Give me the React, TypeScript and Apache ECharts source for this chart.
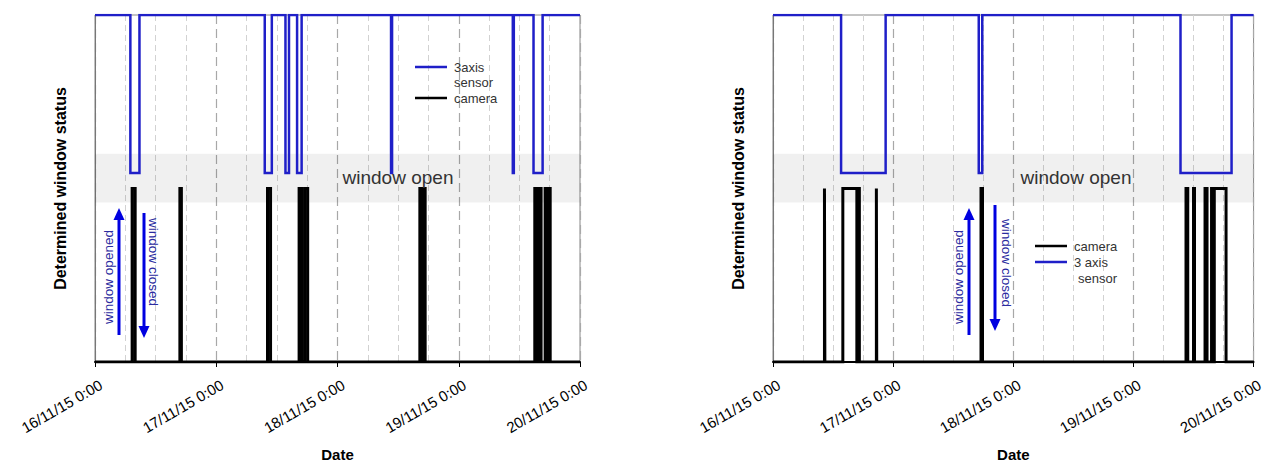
import React, { useEffect, useRef } from "react";
import * as echarts from "echarts";

// ---- data (hours since 16/11/15 0:00) ----
const dayLabels = ["16/11/15 0:00", "17/11/15 0:00", "18/11/15 0:00", "19/11/15 0:00", "20/11/15 0:00"];
const HOURS = 96;

// status encodings on the (hidden) y scale 0..100
const CAMERA_CLOSED = 0;
const CAMERA_OPEN = 50;
const SENSOR_CLOSED = 100;
const SENSOR_OPEN = 54.5;
const bandLow = 46;
const bandHigh = 60;

// left panel: periods where the window was detected open
const leftSensorOpen: [number, number][] = [
  [7.0, 8.8], [33.6, 35.0], [37.7, 38.4], [40.0, 40.9], [58.6, 58.8], [82.7, 82.9], [86.8, 88.6],
];
const leftCameraOpen: [number, number][] = [
  [7.35, 7.95], [16.8, 17.1], [34.15, 34.75], [40.4, 40.9], [41.5, 42.1], [64.3, 64.75], [64.95, 65.35],
  [87.05, 87.55], [87.75, 88.3], [89.1, 89.3], [89.8, 90.1],
];

// right panel
const rightSensorOpen: [number, number][] = [
  [13.6, 22.5], [41.1, 41.8], [81.4, 91.6],
];
const rightCameraOpen: [number, number][] = [
  [10.28, 10.36], [13.95, 16.75], [16.95, 17.25], [20.65, 20.72], [41.55, 41.85],
  [82.5, 82.85], [84.0, 84.2], [86.3, 86.7], [87.6, 88.0], [88.15, 90.5],
];

const FONT = "'Liberation Sans', Arial, Helvetica, sans-serif";
const BLUE = "#1f1fc8";
const TEXT_BLUE = "#2b2ba0";

function stepData(intervals: [number, number][], closed: number, open: number) {
  const pts: number[][] = [[0, closed]];
  for (const [s, e] of intervals) {
    pts.push([s, closed], [s, open], [e, open], [e, closed]);
  }
  pts.push([HOURS, closed]);
  return pts;
}

function xAxis(gridIndex: number) {
  return {
    type: "value",
    gridIndex,
    min: 0,
    max: HOURS,
    interval: 24,
    name: "Date",
    nameLocation: "middle",
    nameGap: 85,
    nameTextStyle: { fontWeight: "bold", fontSize: 15, color: "#000", fontFamily: FONT },
    axisLine: { show: true, onZero: false, lineStyle: { color: "#000", width: 2 } },
    axisTick: { show: true, length: 5, lineStyle: { color: "#000", width: 1 } },
    axisLabel: {
      rotate: 30,
      fontSize: 15,
      color: "#000",
      fontFamily: FONT,
      margin: 25,
      padding: [0, -7, 0, 0],
      showMinLabel: true,
      showMaxLabel: true,
      formatter: (v: number) => dayLabels[Math.round(v / 24)] ?? "",
    },
    splitLine: { show: true, lineStyle: { color: "#a8a8a8", type: [9, 5], width: 1.2 } },
    minorTick: { show: false, splitNumber: 4 },
    minorSplitLine: { show: true, lineStyle: { color: "#d2d2d2", type: [6, 4], width: 1 } },
  };
}

function yAxis(gridIndex: number) {
  return {
    type: "value",
    gridIndex,
    min: 0,
    max: 100,
    name: "Determined window status",
    nameLocation: "middle",
    nameGap: 27,
    nameTextStyle: { fontWeight: "bold", fontSize: 16, color: "#000", fontFamily: FONT },
    axisLine: { show: true, lineStyle: { color: "#777", width: 1 } },
    axisTick: { show: false },
    axisLabel: { show: false },
    splitLine: { show: false },
  };
}

function arrow(x: number, yFrom: number, yTo: number) {
  const dir = yTo < yFrom ? -1 : 1;
  const head = 12;
  return [
    {
      type: "line",
      z: 100,
      shape: { x1: x, y1: yFrom, x2: x, y2: yTo - dir * head },
      style: { stroke: "#0000e0", lineWidth: 3 },
    },
    {
      type: "polygon",
      z: 100,
      shape: { points: [[x - 5.5, yTo - dir * head], [x + 5.5, yTo - dir * head], [x, yTo]] },
      style: { fill: "#0000e0" },
    },
  ];
}

function legendLine(x: number, y: number, color: string) {
  return {
    type: "line",
    z: 100,
    shape: { x1: x, y1: y, x2: x + 32, y2: y },
    style: { stroke: color, lineWidth: 2.5 },
  };
}

function label(x: number, y: number, text: string, size: number, color: string, rotation = 0, align = "left") {
  return {
    type: "text",
    z: 100,
    x,
    y,
    rotation,
    style: { text, fontSize: size, fill: color, fontFamily: FONT, align, verticalAlign: "middle" },
  };
}

export default function App() {
  const ref = useRef<HTMLDivElement>(null);

  useEffect(() => {
    document.body.style.margin = "0";
    document.body.style.overflow = "hidden";
    if (!ref.current) return;
    const chart = echarts.init(ref.current, undefined, { renderer: "svg" });

    const band = {
      silent: true,
      itemStyle: { color: "rgba(0,0,0,0.06)" },
      data: [[{ yAxis: bandLow }, { yAxis: bandHigh }]],
    };

    const lineSeries = (name: string, idx: number, data: number[][], color: string, width: number, withBand = false) => ({
      name,
      type: "line",
      xAxisIndex: idx,
      yAxisIndex: idx,
      data,
      showSymbol: false,
      symbol: "none",
      silent: true,
      lineStyle: { color, width, join: "miter" },
      ...(withBand ? { markArea: band } : {}),
    });

    chart.setOption({
      animation: false,
      textStyle: { fontFamily: FONT },
      grid: [
        { left: 95, top: 15, width: 485, height: 348, show: true, borderColor: "#888", borderWidth: 1, backgroundColor: "transparent" },
        { left: 773, top: 15, width: 484, height: 348, show: true, borderColor: "#888", borderWidth: 1, backgroundColor: "transparent" },
      ],
      xAxis: [xAxis(0), xAxis(1)],
      yAxis: [yAxis(0), yAxis(1)],
      series: [
        lineSeries("camera", 0, stepData(leftCameraOpen, CAMERA_CLOSED, CAMERA_OPEN), "#000", 3, true),
        lineSeries("3axis sensor", 0, stepData(leftSensorOpen, SENSOR_CLOSED, SENSOR_OPEN), BLUE, 2.5),
        lineSeries("camera", 1, stepData(rightCameraOpen, CAMERA_CLOSED, CAMERA_OPEN), "#000", 3, true),
        lineSeries("3 axis sensor", 1, stepData(rightSensorOpen, SENSOR_CLOSED, SENSOR_OPEN), BLUE, 2.5),
      ],
      graphic: [
        // band labels
        label(398, 177, "window open", 19, "#333", 0, "center"),
        label(1076, 177, "window open", 19, "#333", 0, "center"),
        // left legend
        legendLine(415, 67, BLUE),
        label(454, 67, "3axis", 13, "#333"),
        label(454, 82, "sensor", 13, "#333"),
        legendLine(415, 98, "#000"),
        label(454, 98, "camera", 13, "#333"),
        // right legend
        legendLine(1035, 246, "#000"),
        label(1074, 246, "camera", 13, "#333"),
        legendLine(1035, 262, BLUE),
        label(1074, 262, "3 axis", 13, "#333"),
        label(1078, 278, "sensor", 13, "#333"),
        // left arrows
        ...arrow(119, 335, 208),
        ...arrow(144, 213, 338),
        label(108, 277, "window opened", 13.5, TEXT_BLUE, Math.PI / 2, "center"),
        label(153, 262, "window closed", 13.5, TEXT_BLUE, -Math.PI / 2, "center"),
        // right arrows
        ...arrow(969, 335, 208),
        ...arrow(995, 205, 331),
        label(958, 277, "window opened", 13.5, TEXT_BLUE, Math.PI / 2, "center"),
        label(1006, 263, "window closed", 13.5, TEXT_BLUE, -Math.PI / 2, "center"),
      ],
    });

    return () => chart.dispose();
  }, []);

  return <div ref={ref} style={{ width: 1266, height: 467, overflow: "hidden" }} />;
}
